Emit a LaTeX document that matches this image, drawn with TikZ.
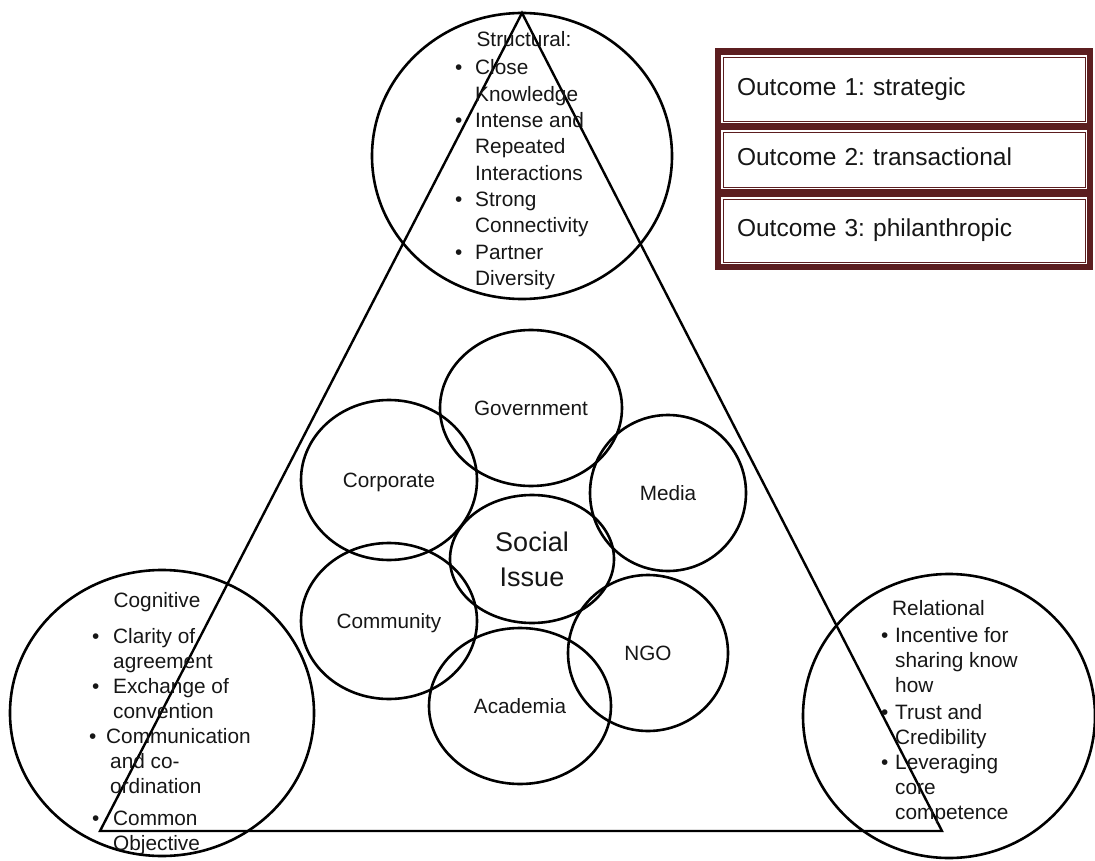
\documentclass[tikz,border=0pt]{standalone}
\usepackage{fontspec}
\setmainfont{Liberation Sans}
\usetikzlibrary{shapes.geometric}
\definecolor{framecol}{RGB}{92,30,32}
\definecolor{txt}{RGB}{22,22,22}
\newcommand{\bulw}[1]{\makebox[#1][l]{•}}
\frenchspacing
\begin{document}
\begin{tikzpicture}[x=1pt,y=-1pt,
  edge/.style={draw=black, line width=2.4pt},
  bigell/.style={ellipse, draw=black, line width=2.6pt, inner sep=0pt},
  actor/.style={ellipse, draw=black, line width=2.6pt, inner sep=0pt, text=txt,
    font=\fontsize{20.7}{25}\selectfont, text height=14.9pt, text depth=0pt},
  blk/.style={inner sep=0pt, text=txt, anchor=base west},
  ttl/.style={inner sep=0pt, text=txt, anchor=base, font=\fontsize{20.8}{25}\selectfont},
  panel/.style={rectangle, draw=framecol, line width=0.9pt, inner xsep=14pt, inner ysep=0pt,
    text width=334pt, align=left, text=txt, text height=17.6pt, text depth=5pt,
    font=\fontsize{24.5}{29}\selectfont}]
\useasboundingbox (0,0) rectangle (1095,861);

% triangle
\coordinate (A) at (522,13);
\coordinate (B) at (100,831);
\coordinate (C) at (942,831);
\draw[edge] (A) -- (B) -- (C) -- cycle;

% big dimension circles
\node[bigell, minimum width=300pt, minimum height=286pt] (struct) at (522,156) {};
\node[bigell, minimum width=304pt, minimum height=286pt] (cogn) at (162,713) {};
\node[bigell, minimum width=292pt, minimum height=284pt] (relat) at (949,716) {};

% Structural text
\node[ttl] (sttl) at (524,47) {Structural:};
\node[blk, font=\fontsize{20.8}{26.3}\selectfont] (slist) at (455,75) {%
\begin{tabular}[t]{@{}l@{}l@{}}
\bulw{20pt} & Close\\
 & Knowledge\\
\bulw{20pt} & Intense and\\
 & Repeated\\
 & Interactions\\
\bulw{20pt} & Strong\\
 & Connectivity\\
\bulw{20pt} & Partner\\
 & Diversity
\end{tabular}};

% Cognitive text
\node[ttl] (cttl) at (157,607.5) {Cognitive};
\node[blk, font=\fontsize{20.8}{25}\selectfont] (clist) at (92,643.5) {%
\begin{tabular}[t]{@{}l@{}l@{}}
\bulw{21pt} & Clarity of\\
 & agreement\\
\bulw{21pt} & Exchange of\\
 & convention\\
\hspace{-3pt}\bulw{21pt} & \hspace{-7pt}Communication\\
 & \hspace{-3pt}and co-\\
 & \hspace{-3pt}ordination\\[7pt]
\bulw{21pt} & Common\\
 & Objective
\end{tabular}};

% Relational text
\node[blk, font=\fontsize{20.8}{25}\selectfont] (rttl) at (892,615.5) {Relational};
\node[blk, font=\fontsize{20.8}{25}\selectfont] (rlist) at (881,642.5) {%
\begin{tabular}[t]{@{}l@{}l@{}}
\bulw{14pt} & Incentive for\\
 & sharing know\\
 & how\\[2pt]
\bulw{14pt} & Trust and\\
 & Credibility\\
\bulw{14pt} & Leveraging\\
 & core\\
 & competence
\end{tabular}};

% actor circles
\node[actor, minimum width=182pt, minimum height=156pt] (gov) at (531,408) {Government};
\node[actor, minimum width=176pt, minimum height=160pt] (corp) at (389,480) {Corporate};
\node[actor, minimum width=156pt, minimum height=156pt] (media) at (668,493) {Media};
\node[actor, minimum width=176pt, minimum height=156pt] (comm) at (389,621) {Community};
\node[actor, minimum width=160pt, minimum height=156pt] (ngo) at (648,653) {NGO};
\node[actor, minimum width=182pt, minimum height=156pt] (acad) at (520,706) {Academia};
\node[ellipse, draw=black, line width=2.6pt, inner sep=0pt, minimum width=164pt, minimum height=128pt,
  align=center, text=txt, font=\fontsize{27}{35}\selectfont] (soc) at (532,559) {Social\\Issue};

% outcome frame
\fill[framecol] (715,48) rectangle (1093,270);
\fill[white] (721,55) rectangle (1087,123);
\fill[white] (721,130) rectangle (1087,189);
\fill[white] (721,197) rectangle (1087,264);
\node[panel, minimum height=64pt] (o1) at (904,89) {Outcome 1: strategic};
\node[panel, minimum height=55pt] (o2) at (904,159.5) {Outcome 2: transactional};
\node[panel, minimum height=63pt] (o3) at (904,230.5) {Outcome 3: philanthropic};
\end{tikzpicture}
\end{document}
